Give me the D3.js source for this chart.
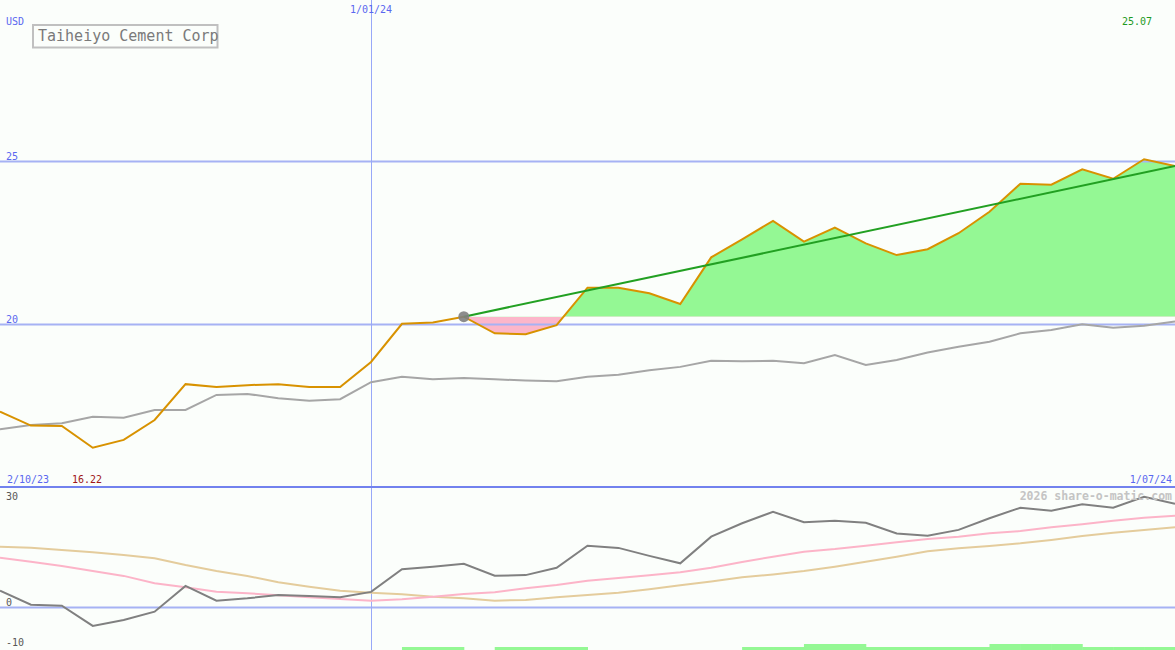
<!DOCTYPE html>
<html>
<head>
<meta charset="utf-8">
<script src="https://cdn.jsdelivr.net/npm/d3@7"></script>
<style>
  html, body { margin: 0; padding: 0; background: #fbfefb; }
  svg { display: block; }
  text { font-family: "DejaVu Sans Mono", "Liberation Mono", monospace; }
</style>
</head>
<body>
<svg id="chart" width="1175" height="650"></svg>
<script>
// ---- data (weekly points, index 0..38) ----
const title = "Taiheiyo Cement Corp";
const currency = "USD";
const dateLabels = ["2/10/23", "1/01/24", "1/07/24"];
const dateLabelIdx = [0, 12, 38];
const priceTicks = [20, 25];
const oscTicks = [30, 0, -10];

const price = [17.33, 16.90, 16.89, 16.22, 16.46, 17.07, 18.17, 18.08, 18.14, 18.17,
               18.08, 18.08, 18.85, 20.02, 20.06, 20.24, 19.73, 19.70, 19.98, 21.13,
               21.13, 20.96, 20.63, 22.06, 22.61, 23.18, 22.54, 22.97, 22.49, 22.13,
               22.31, 22.80, 23.46, 24.32, 24.29, 24.76, 24.47, 25.07, 24.86];
const priceAvg = [16.79, 16.92, 16.97, 17.17, 17.14, 17.38, 17.38, 17.84, 17.87, 17.74,
                  17.66, 17.71, 18.23, 18.40, 18.32, 18.36, 18.32, 18.28, 18.26, 18.40,
                  18.46, 18.60, 18.70, 18.89, 18.87, 18.89, 18.81, 19.06, 18.76, 18.91,
                  19.14, 19.32, 19.47, 19.73, 19.83, 20.01, 19.90, 19.96, 20.09];
const momentum = [4.2, 0.7, 0.45, -4.6, -3.1, -1.05, 5.4, 1.7, 2.3, 3.1,
                  2.9, 2.55, 3.9, 9.55, 10.2, 10.95, 7.95, 8.1, 9.95, 15.45,
                  14.9, 12.9, 11.05, 17.7, 21.05, 23.95, 21.3, 21.7, 21.2, 18.5,
                  17.95, 19.4, 22.3, 24.95, 24.2, 25.8, 24.95, 27.7, 25.9];
const momAvgFast = [12.45, 11.45, 10.4, 9.1, 7.9, 6.05, 5.05, 3.95, 3.55, 3.05,
                    2.55, 2.1, 1.7, 2.05, 2.7, 3.4, 3.8, 4.8, 5.6, 6.7,
                    7.4, 8.05, 8.8, 9.95, 11.4, 12.7, 13.95, 14.6, 15.45, 16.3,
                    17.1, 17.7, 18.55, 19.1, 20.05, 20.8, 21.7, 22.45, 22.95];
const momAvgSlow = [15.2, 14.95, 14.4, 13.8, 13.1, 12.3, 10.6, 9.1, 7.9, 6.3,
                    5.2, 4.2, 3.7, 3.3, 2.7, 2.3, 1.7, 1.9, 2.55, 3.1,
                    3.7, 4.55, 5.55, 6.5, 7.55, 8.25, 9.1, 10.2, 11.45, 12.7,
                    14.05, 14.8, 15.4, 16.05, 16.9, 17.9, 18.7, 19.4, 20.05];
// signal strip per week interval (0 none, 1 low, 2 high)
const signal = [0,0,0,0,0,0,0,0,0,0, 0,0,0,1,1,0,1,1,1,0, 0,0,0,0,1,1,2,2,1,1, 1,1,2,2,2,1,1,1];
const trendStart = 15;   // index of the marked point
const minLabel = "16.22";
const maxLabel = "25.07";
const watermark = "2026 share-o-matic.com";

// ---- layout ----
const W = 1175, H = 650;
const svg = d3.select("#chart");
const x = d3.scaleLinear().domain([0, price.length - 1]).range([0, W]);
const y = d3.scaleLinear().domain([15, 30]).range([487.5, -1.5]);
const y2 = d3.scaleLinear().domain([-10, 30]).range([647.5, 487.5]);
const ys = d3.scaleLinear().domain([0, 2]).range([650, 644]);

const blue = "#5a68f0";
const gridCol = "#a6b2f4";

// fills (trend region)
const base = price[trendStart];
const seg = price.map((v, i) => ({ i, v })).filter(d => d.i >= trendStart);
const area = d3.area().x(d => x(d.i)).y0(y(base)).y1(d => y(d.v));
const defs = svg.append("defs");
defs.append("clipPath").attr("id", "above")
  .append("rect").attr("x", 0).attr("y", 0).attr("width", W).attr("height", y(base));
defs.append("clipPath").attr("id", "below")
  .append("rect").attr("x", 0).attr("y", y(base)).attr("width", W).attr("height", 487 - y(base));
svg.append("path").datum(seg).attr("d", area).attr("fill", "#94f894").attr("clip-path", "url(#above)");
svg.append("path").datum(seg).attr("d", area).attr("fill", "#fcb6ca").attr("clip-path", "url(#below)");

// grid lines
svg.selectAll("line.pgrid").data(priceTicks).join("line")
  .attr("x1", 0).attr("x2", W).attr("y1", d => y(d)).attr("y2", d => y(d))
  .attr("stroke", gridCol).attr("stroke-width", 2);
svg.append("line").attr("x1", 0).attr("x2", W).attr("y1", y2(0)).attr("y2", y2(0))
  .attr("stroke", gridCol).attr("stroke-width", 2);
const vx = Math.round(x(dateLabelIdx[1]));
svg.append("rect").attr("x", vx).attr("y", 0).attr("width", 1.2).attr("height", H)
  .attr("fill", "#98a8f8").attr("shape-rendering", "crispEdges");
svg.append("line").attr("x1", 0).attr("x2", W).attr("y1", 487).attr("y2", 487)
  .attr("stroke", "#7282ee").attr("stroke-width", 2);

// price lines
const line = (arr, sc) => d3.line().x((d, i) => x(i)).y(d => sc(d))(arr);
svg.append("path").attr("d", line(priceAvg, y)).attr("fill", "none")
  .attr("stroke", "#a6a6a6").attr("stroke-width", 2);
svg.append("path").attr("d", line(price, y)).attr("fill", "none")
  .attr("stroke", "#d89200").attr("stroke-width", 2);
// trend line
svg.append("line")
  .attr("x1", x(trendStart)).attr("y1", y(price[trendStart]))
  .attr("x2", x(price.length - 1)).attr("y2", y(price[price.length - 1]))
  .attr("stroke", "#22a022").attr("stroke-width", 2);
svg.append("circle").attr("cx", x(trendStart)).attr("cy", y(price[trendStart])).attr("r", 5.5)
  .attr("fill", "#808080").attr("fill-opacity", 0.9);

// oscillator panel
svg.append("path").attr("d", line(momAvgSlow, y2)).attr("fill", "none")
  .attr("stroke", "#e4cc9c").attr("stroke-width", 2);
svg.append("path").attr("d", line(momAvgFast, y2)).attr("fill", "none")
  .attr("stroke", "#fcb4c8").attr("stroke-width", 2);
svg.append("path").attr("d", line(momentum, y2)).attr("fill", "none")
  .attr("stroke", "#808080").attr("stroke-width", 2);
svg.selectAll("rect.sig").data(signal.map((v, i) => ({ v, i })).filter(d => d.v > 0)).join("rect")
  .attr("x", d => x(d.i)).attr("width", d => x(d.i + 1) - x(d.i) + 0.5)
  .attr("y", d => ys(d.v)).attr("height", d => ys(0) - ys(d.v))
  .attr("fill", "#94f894");

// text
const fs = 10;
svg.append("text").attr("x", 6).attr("y", 25).attr("font-size", fs).attr("fill", blue).text(currency);
svg.selectAll("text.pt").data(priceTicks).join("text")
  .attr("x", 6).attr("y", d => y(d) - 1.5).attr("font-size", fs).attr("fill", blue).text(d => d);
svg.append("text").attr("x", x(dateLabelIdx[1])).attr("y", 13).attr("text-anchor", "middle")
  .attr("font-size", fs).attr("fill", blue).text(dateLabels[1]);
svg.append("text").attr("x", 7).attr("y", 482.5).attr("font-size", fs).attr("fill", blue).text(dateLabels[0]);
svg.append("text").attr("x", 1172).attr("y", 482.5).attr("text-anchor", "end")
  .attr("font-size", fs).attr("fill", blue).text(dateLabels[2]);
svg.append("text").attr("x", 72).attr("y", 482.5).attr("font-size", fs).attr("fill", "#a01818").text(minLabel);
svg.append("text").attr("x", 1152).attr("y", 25).attr("text-anchor", "end")
  .attr("font-size", fs).attr("fill", "#1e9a1e").text(maxLabel);
svg.selectAll("text.ot").data(oscTicks).join("text")
  .attr("x", 6).attr("y", d => d === 30 ? y2(d) + 12.5 : y2(d) - 2)
  .attr("font-size", fs).attr("fill", "#585858").text(d => d);
svg.append("text").attr("x", 1172).attr("y", 500).attr("text-anchor", "end")
  .attr("font-size", 11.5).attr("font-weight", "bold").attr("fill", "#c4c4c4").text(watermark);

// title box
svg.append("rect").attr("x", 33).attr("y", 25).attr("width", 184.5).attr("height", 22.5)
  .attr("fill", "#fbfefb").attr("stroke", "#c0c0c0").attr("stroke-width", 2);
svg.append("text").attr("x", 38).attr("y", 41).attr("font-size", 15).attr("fill", "#7a7a7a").text(title);
</script>
</body>
</html>
